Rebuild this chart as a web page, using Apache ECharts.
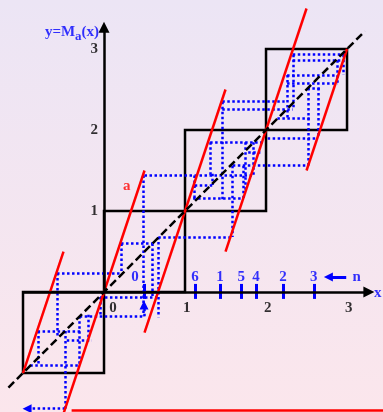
<!DOCTYPE html>
<html>
<head>
<meta charset="utf-8">
<script src="https://cdn.jsdelivr.net/npm/echarts@6/dist/echarts.min.js"></script>
<style>
html, body { margin: 0; padding: 0; }
#chart { width: 383px; height: 412px; background: linear-gradient(#ece5f5, #fbe6ec); }
</style>
</head>
<body>
<div id="chart"></div>
<script>
// unit squares along the diagonal (lower-left corner)
const boxes = [-1, 0, 1, 2]
// branches of M_a: [x0, y0, x1, y1]
const branches = [
  [-1, -1, -0.5, 0.5],
  [-0.5, -1.5, 0.5, 1.5],
  [0.5, -0.5, 1.5, 2.5],
  [1.5, 0.5, 2.5, 3.5],
  [2.5, 1.5, 3, 3]
]
// orbit marks on the x axis
const orbitX = [0.494, 1.123, 1.432, 1.695, 1.877, 2.21, 2.59]
const orbitN = ['0', '6', '1', '5', '4', '2', '3']
// dotted cobweb pieces, horizontal: [y, xFrom, xTo]
const hSeg = [
  [2.93, 2.33, 3.0], [2.86, 2.33, 2.95], [2.68, 2.26, 2.88], [2.58, 2.26, 2.88],
  [2.52, 2.51, 2.67], [2.35, 1.46, 2.23], [2.26, 1.46, 2.33], [2.15, 2.14, 2.54],
  [1.90, 2.02, 2.64], [1.85, 1.31, 1.96], [1.72, 1.78, 1.93], [1.56, 1.59, 2.52],
  [1.44, 0.50, 1.84], [1.32, 1.12, 1.35], [1.16, 1.10, 1.72], [0.68, 0.67, 1.58],
  [0.60, 0.21, 0.60], [0.235, -0.58, 0.21], [-0.06, -0.05, 0.67], [-0.30, -0.30, 0.49],
  [-0.48, -0.82, -0.27], [-0.59, -0.46, -0.15], [-0.90, -0.91, -0.30]
]
// vertical: [x, yFrom, yTo]
const vSeg = [
  [2.33, 2.93, 2.26], [2.26, 2.68, 2.15], [2.88, 2.86, 2.58], [2.95, 2.93, 2.68],
  [2.52, 2.52, 1.53], [2.64, 2.52, 1.90], [1.46, 2.35, 1.14], [1.58, 1.56, 0.68],
  [1.31, 1.85, 1.42], [1.74, 1.85, 1.26], [1.84, 1.85, 1.44], [1.12, 1.44, 1.16],
  [1.72, 1.56, 1.16], [1.33, 1.46, 1.32], [0.49, 1.44, -0.30], [0.21, 0.60, 0.235],
  [0.60, 0.60, -0.06], [0.67, 0.68, -0.31], [-0.58, 0.235, -0.555], [-0.05, -0.06, -0.30],
  [-0.30, -0.30, -0.90], [-0.20, -0.28, -0.59], [-0.81, -0.48, -0.91], [-0.48, -0.48, -1.44]
]
// escaping piece with arrow to the left: [y, xFrom, xTo]
const escape = [-1.44, -0.48, -0.95]
const xNums = ['0', '1', '2', '3']
const yNums = ['1', '2', '3']

const serif = 'Liberation Serif'
const BLUE = '#0000ff'
const RED = '#ff0000'

const chart = echarts.init(document.getElementById('chart'))

const seg = (pts) => ({ coords: pts })
const text = (x, y, str, color, extra) => ({
  value: [x, y],
  label: Object.assign({ show: true, formatter: str, color: color, position: 'inside',
    fontFamily: serif, fontWeight: 'bold', fontSize: 15 }, extra || {})
})

const dotted = hSeg.map(s => seg([[s[1], s[0]], [s[2], s[0]]]))
  .concat(vSeg.map(s => seg([[s[0], s[1]], [s[0], s[2]]])))

const labels = []
xNums.forEach((t, i) => labels.push(text(i === 0 ? 0.11 : i + 0.02, -0.2, t, '#000')))
yNums.forEach((t, i) => labels.push(text(-0.12, i + 1, t, '#000')))
orbitX.forEach((x, i) => labels.push(text(x, 0.185, orbitN[i], BLUE, i === 0 ? { offset: [-9, 0] } : {})))
labels.push(text(0.28, 1.31, 'a', RED))
labels.push(text(3.38, -0.01, 'x', BLUE))
labels.push(text(3.12, 0.19, 'n', BLUE))
labels.push({
  value: [-0.06, 3.21],
  label: {
    show: true, position: 'left', distance: 0,
    formatter: '{m|y=M}{s|a}{m|(x)}',
    rich: {
      m: { fontFamily: serif, fontWeight: 'bold', fontSize: 15, color: BLUE },
      s: { fontFamily: serif, fontWeight: 'bold', fontSize: 13, color: BLUE, padding: [9, 0, 0, 0] }
    }
  }
})

const option = {
  animation: false,
  grid: { left: 0, right: 0, top: 0, bottom: 0 },
  xAxis: { type: 'value', min: -1.284, max: 3.444, show: false },
  yAxis: { type: 'value', min: -1.481, max: 3.605, show: false },
  series: [
    {
      type: 'lines', coordinateSystem: 'cartesian2d', polyline: true, silent: true,
      lineStyle: { color: '#000', width: 2.5, opacity: 1 },
      data: boxes.map(b => seg([[b, b], [b + 1, b], [b + 1, b + 1], [b, b + 1], [b, b]]))
    },
    {
      type: 'lines', coordinateSystem: 'cartesian2d', silent: true,
      lineStyle: { color: BLUE, width: 2.5, opacity: 1, type: [2.5, 2.5] },
      data: dotted
    },
    {
      type: 'lines', coordinateSystem: 'cartesian2d', silent: true,
      symbol: ['none', 'triangle'], symbolSize: 9,
      lineStyle: { color: BLUE, width: 2.5, opacity: 1, type: [2.5, 2.5] },
      data: [
        seg([[escape[1], escape[0]], [escape[2], escape[0]]]),
        seg([[orbitX[0], -0.30], [orbitX[0], -0.16]])
      ]
    },
    {
      type: 'lines', coordinateSystem: 'cartesian2d', silent: true,
      lineStyle: { color: BLUE, width: 3, opacity: 1 },
      data: orbitX.map(x => seg([[x, -0.085], [x, 0.1]]))
    },
    {
      type: 'lines', coordinateSystem: 'cartesian2d', silent: true,
      symbol: ['none', 'triangle'], symbolSize: 9,
      lineStyle: { color: BLUE, width: 3, opacity: 1 },
      data: [seg([[2.99, 0.185], [2.77, 0.185]])]
    },
    {
      type: 'lines', coordinateSystem: 'cartesian2d', silent: true,
      lineStyle: { color: RED, width: 2.5, opacity: 1 },
      data: branches.map(b => seg([[b[0], b[1]], [b[2], b[3]]]))
        .concat([seg([[-0.4, -1.46], [3.6, -1.46]])])
    },
    {
      type: 'lines', coordinateSystem: 'cartesian2d', silent: true,
      lineStyle: { color: '#000', width: 2.5, opacity: 1, type: [8, 4] },
      data: [seg([[-1.18, -1.18], [3.22, 3.22]])]
    },
    {
      type: 'lines', coordinateSystem: 'cartesian2d', silent: true,
      symbol: ['none', 'triangle'], symbolSize: 11,
      lineStyle: { color: '#000', width: 2.5, opacity: 1 },
      data: [seg([[-1, 0], [3.27, 0]]), seg([[0, 0], [0, 3.27]])]
    },
    {
      type: 'scatter', silent: true, symbolSize: 0.1,
      itemStyle: { color: 'rgba(0,0,0,0)' },
      data: labels
    }
  ]
}

chart.setOption(option)
</script>
</body>
</html>
